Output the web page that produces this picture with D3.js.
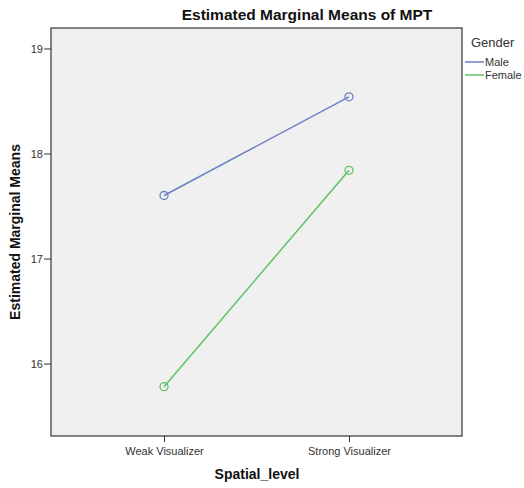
<!DOCTYPE html>
<html>
<head>
<meta charset="utf-8">
<script src="https://cdn.jsdelivr.net/npm/d3@7"></script>
<style>
body{margin:0;background:#fff;font-family:Arial,"Liberation Sans",sans-serif;}
.tick text{fill:#333;font-size:11px;font-family:Arial,"Liberation Sans",sans-serif;}
</style>
</head>
<body>
<div id="content"></div>
<script>
//estimated marginal means chart (SPSS style profile plot)
var levels=['Weak Visualizer','Strong Visualizer'];
var genders=['Male','Female'];
var maleMeans=[17.60,18.54];
var femaleMeans=[15.78,17.84];
var yTicks=[16,17,18,19];

var svg_width=524;
var svg_height=488;
var frame={left:51, right:462, top:28, bottom:436};
var colors={'Male':'#6b7fc8','Female':'#5bc463'};

var svg=d3.select('#content').append('svg')
	.attr('width',svg_width).attr('height',svg_height);

var xScale=d3.scalePoint().domain(levels).range([frame.left,frame.right]).padding(0.611);
var yScale=d3.scaleLinear().domain([15.31,19.195]).range([frame.bottom,frame.top]);

//plot background
svg.append('rect')
	.attr('x',frame.left).attr('y',frame.top)
	.attr('width',frame.right-frame.left).attr('height',frame.bottom-frame.top)
	.style('fill','#f0f0f0').style('stroke','#5a5a5a').style('stroke-width',1.5);

//axes
var yAxis=svg.append('g')
	.attr('transform','translate('+frame.left+',0)')
	.call(d3.axisLeft(yScale).tickValues(yTicks).tickSize(7).tickPadding(1).tickFormat(d3.format('d')));
yAxis.select('.domain').remove();
yAxis.selectAll('.tick line').style('stroke','#333');

var xAxis=svg.append('g')
	.attr('transform','translate(0,'+frame.bottom+')')
	.call(d3.axisBottom(xScale).tickSize(6).tickPadding(5));
xAxis.select('.domain').remove();
xAxis.selectAll('.tick line').style('stroke','#333');

//title and labels
svg.append('text').text('Estimated Marginal Means of MPT')
	.attr('x',307).attr('y',20).attr('text-anchor','middle')
	.style('font-size','15.5px').style('font-weight','bold').style('fill','#111');

svg.append('text').text('Spatial_level')
	.attr('x',257).attr('y',479).attr('text-anchor','middle')
	.style('font-size','14px').style('font-weight','bold').style('fill','#111');

svg.append('text').text('Estimated Marginal Means')
	.attr('transform','translate(20,232) rotate(-90)').attr('text-anchor','middle')
	.style('font-size','14px').style('font-weight','bold').style('fill','#111');

//series
var series=[{name:'Male',values:maleMeans},{name:'Female',values:femaleMeans}];
var line=d3.line()
	.x(function(d,i){return xScale(levels[i]);})
	.y(function(d){return yScale(d);});

series.forEach(function(s){
	svg.append('path')
		.attr('d',line(s.values))
		.style('fill','none').style('stroke',colors[s.name]).style('stroke-width',1.5);
	svg.selectAll('.pt-'+s.name)
		.data(s.values).enter().append('circle')
		.attr('cx',function(d,i){return xScale(levels[i]);})
		.attr('cy',function(d){return yScale(d);})
		.attr('r',4)
		.style('fill','none').style('stroke',colors[s.name]).style('stroke-width',1.3);
});

//legend
svg.append('text').text('Gender')
	.attr('x',471).attr('y',47)
	.style('font-size','13px').style('fill','#333');

var legend=svg.selectAll('.legend')
	.data(genders).enter().append('g')
	.attr('transform',function(d,i){return 'translate(465,'+(62+i*13)+')';});
legend.append('line')
	.attr('x1',0).attr('x2',19).attr('y1',0).attr('y2',0)
	.style('stroke',function(d){return colors[d];}).style('stroke-width',1.5);
legend.append('text').text(function(d){return d;})
	.attr('x',20).attr('y',4)
	.style('font-size','11px').style('fill','#333');
</script>
</body>
</html>
